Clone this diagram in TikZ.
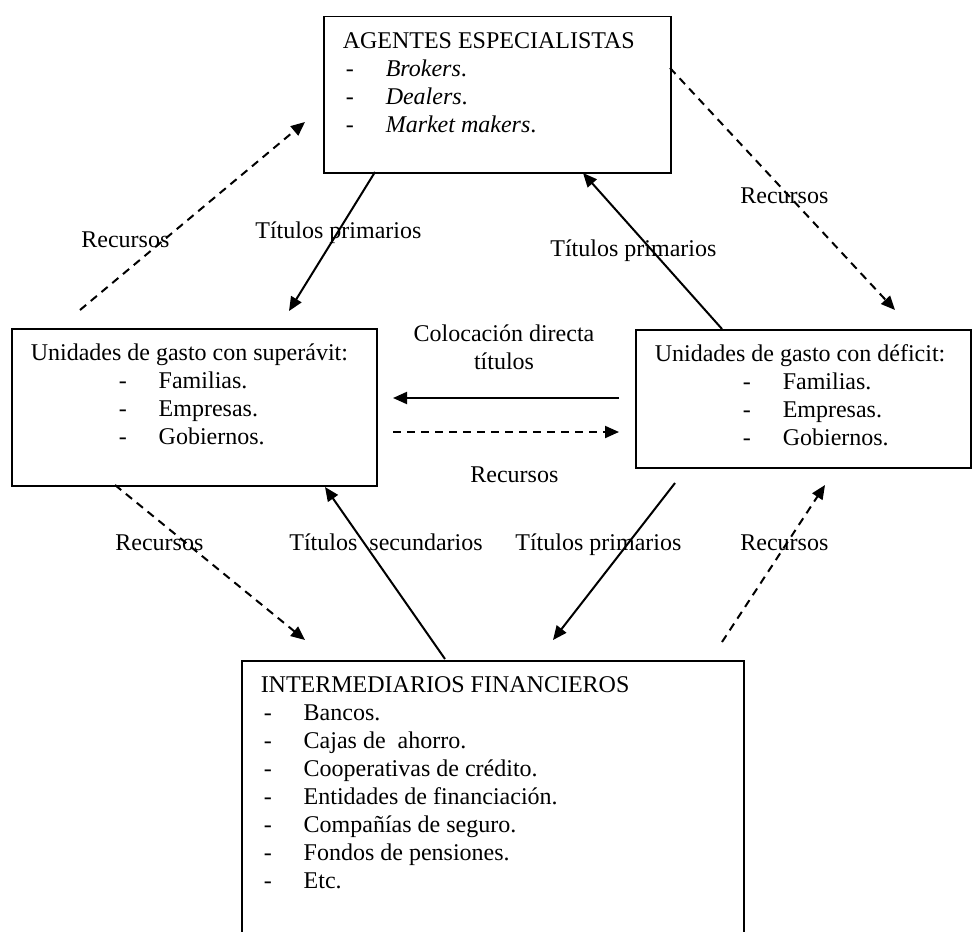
\documentclass[tikz,border=0pt]{standalone}
\usepackage{fontspec}
\setmainfont{Liberation Serif}
\usetikzlibrary{arrows.meta}

% dash + tab of the lists
\newcommand{\guion}[2][1.5pt]{\hspace*{#1}\makebox[20pt][l]{-}#2}
% text block of a box, fixed size, first baseline 16pt below top
\newcommand{\contenido}[3]{\parbox[t][#2][t]{#1}{\rule{0pt}{16pt}#3}}

\begin{document}
\begin{tikzpicture}[x=0.5pt, y=-0.5pt,
    every node/.style={font=\fontsize{12}{14}\selectfont},
    caja/.style={draw, line width=0.75pt, anchor=north west, inner xsep=9.5pt, inner ysep=0pt},
    flecha/.style={line width=1pt, -{Triangle[length=7pt,width=6pt]}},
    flechad/.style={flecha, dash pattern=on 4pt off 3pt},
    etiqueta/.style={inner sep=0pt, anchor=base west}]

    \useasboundingbox (0,0) rectangle (972,931);

    % boxes
    \node[caja] (agentes) at (323,16) {\contenido{154.5pt}{78pt}{AGENTES ESPECIALISTAS\\
        \guion{\textit{Brokers}.}\\ \guion{\textit{Dealers}.}\\ \guion{\textit{Market makers}.}}};
    \node[caja] (superavit) at (11,328) {\contenido{163.5pt}{78.5pt}{Unidades de gasto con superávit:\\
        \guion[44pt]{Familias.}\\ \guion[44pt]{Empresas.}\\ \guion[44pt]{Gobiernos.}}};
    \node[caja] (deficit) at (635,329) {\contenido{148.5pt}{69pt}{Unidades de gasto con déficit:\\
        \guion[44pt]{Familias.}\\ \guion[44pt]{Empresas.}\\ \guion[44pt]{Gobiernos.}}};
    \node[caja] (intermediarios) at (241,660) {\contenido{232pt}{150pt}{INTERMEDIARIOS FINANCIEROS\\
        \guion{Bancos.}\\ \guion{Cajas de\ \ ahorro.}\\ \guion{Cooperativas de crédito.}\\
        \guion{Entidades de financiación.}\\ \guion{Compañías de seguro.}\\
        \guion{Fondos de pensiones.}\\ \guion{Etc.}}};

    % arrow ends
    \coordinate (tpA1) at (375,172);  \coordinate (tpA2) at (289,311);
    \coordinate (reA1) at (80,310);   \coordinate (reA2) at (305,122);
    \coordinate (tpB1) at (722,329);  \coordinate (tpB2) at (583,173);
    \coordinate (reB1) at (670,68);   \coordinate (reB2) at (895,310);
    \coordinate (cd1) at (619,398);   \coordinate (cd2) at (393,398);
    \coordinate (reC1) at (393,432);  \coordinate (reC2) at (619,432);
    \coordinate (reD1) at (115,485);  \coordinate (reD2) at (305,640);
    \coordinate (ts1) at (445,659);   \coordinate (ts2) at (325,487);
    \coordinate (tpC1) at (675,483);  \coordinate (tpC2) at (553,640);
    \coordinate (reE1) at (722,642);  \coordinate (reE2) at (825,485);

    \draw[flecha] (tpA1) -- (tpA2);
    \draw[flechad] (reA1) -- (reA2);
    \draw[flecha] (tpB1) -- (tpB2);
    \draw[flechad] (reB1) -- (reB2);
    \draw[flecha] (cd1) -- (cd2);
    \draw[flechad] (reC1) -- (reC2);
    \draw[flechad] (reD1) -- (reD2);
    \draw[flecha] (ts1) -- (ts2);
    \draw[flecha] (tpC1) -- (tpC2);
    \draw[flechad] (reE1) -- (reE2);

    % labels
    \node[etiqueta] (ltpA) at (255,238) {Títulos primarios};
    \node[etiqueta] (lreA) at (81,247) {Recursos};
    \node[etiqueta] (ltpB) at (550,256) {Títulos primarios};
    \node[etiqueta] (lreB) at (740,203) {Recursos};
    \node[etiqueta, anchor=base] (lcd) at (504,341) {Colocación directa};
    \node[etiqueta, anchor=base] (lcd2) at (504,369) {títulos};
    \node[etiqueta] (lreC) at (470,482) {Recursos};
    \node[etiqueta] (lreD) at (115,550) {Recursos};
    \node[etiqueta] (lts) at (289,550) {Títulos\ \ secundarios};
    \node[etiqueta] (ltpC) at (515,550) {Títulos primarios};
    \node[etiqueta] (lreE) at (740,550) {Recursos};
\end{tikzpicture}
\end{document}
